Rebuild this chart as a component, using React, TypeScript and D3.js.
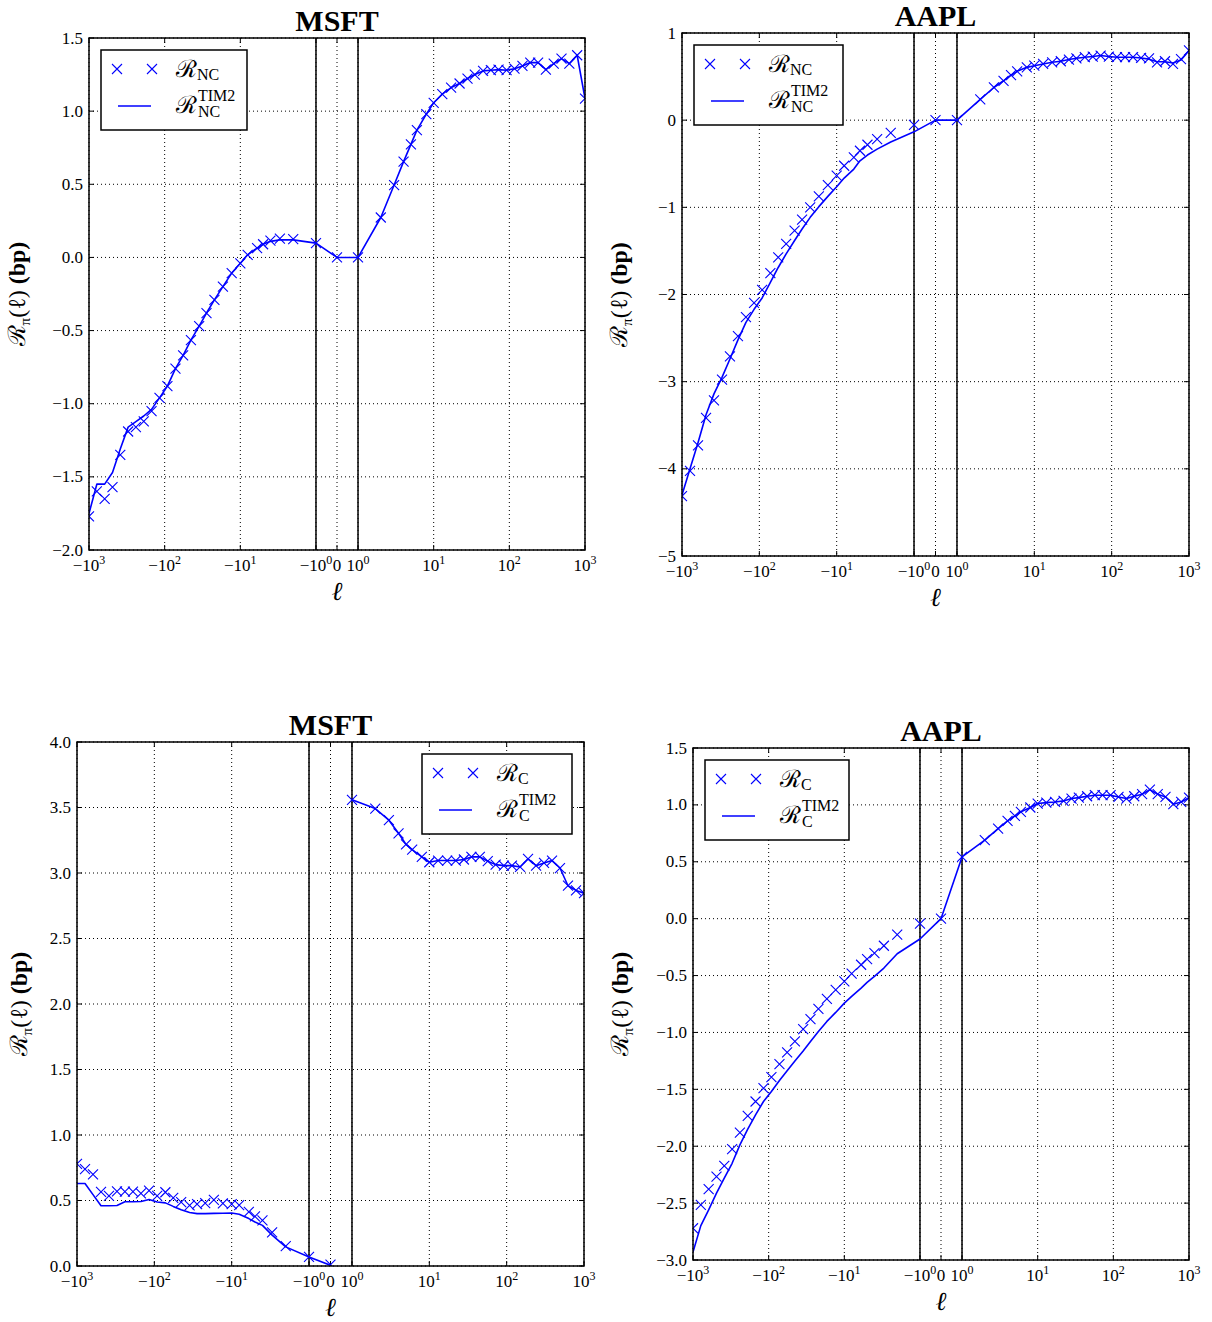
import * as d3 from 'd3';

// lag values (symlog axis), shared by every panel
const ELL = [
  -1000, -788, -621, -489, -386, -304, -240, -189, -149, -117, -92, -72, -57, -45, -35, -28, -22, -17, -13, -10, -8, -6, -5, -4, -3, -2, -1,
  0,
  1, 2, 3, 4, 5, 6, 8, 10, 13, 17, 22, 28, 35, 45, 57, 72, 92, 117, 149, 189, 240, 304, 386, 489, 621, 788, 1000,
];

const MSFT_NC_MARKS = [
  -1.77, -1.6, -1.65, -1.57, -1.35, -1.19, -1.16, -1.12, -1.05, -0.96, -0.88, -0.76, -0.67, -0.565, -0.47, -0.38, -0.29, -0.2, -0.107, -0.04, 0.018, 0.064, 0.09, 0.115, 0.128, 0.125, 0.098,
  0,
  0, 0.273, 0.495, 0.655, 0.773, 0.87, 0.98, 1.057, 1.116, 1.161, 1.189, 1.223, 1.25, 1.275, 1.28, 1.284, 1.28, 1.29, 1.309, 1.332, 1.332, 1.284, 1.325, 1.359, 1.325, 1.382, 1.086,
];
const MSFT_NC_LINE = [
  -1.75, -1.55, -1.55, -1.47, -1.31, -1.16, -1.123, -1.084, -1.039, -0.96, -0.88, -0.76, -0.67, -0.565, -0.47, -0.38, -0.29, -0.2, -0.107, -0.04, 0.018, 0.064, 0.09, 0.11, 0.12, 0.12, 0.098,
  0,
  0, 0.273, 0.495, 0.655, 0.773, 0.87, 0.98, 1.057, 1.116, 1.161, 1.189, 1.223, 1.25, 1.275, 1.28, 1.284, 1.28, 1.29, 1.309, 1.332, 1.332, 1.284, 1.325, 1.359, 1.325, 1.382, 1.086,
];

const AAPL_NC_MARKS = [
  -4.313, -4.023, -3.73, -3.416, -3.214, -2.977, -2.71, -2.477, -2.26, -2.095, -1.947, -1.756, -1.573, -1.42, -1.267, -1.141, -1.0, -0.874, -0.744, -0.637, -0.523, -0.427, -0.351, -0.282, -0.218, -0.145, -0.053,
  0,
  0, 0.239, 0.375, 0.452, 0.517, 0.56, 0.606, 0.625, 0.645, 0.664, 0.676, 0.695, 0.71, 0.722, 0.73, 0.741, 0.73, 0.722, 0.722, 0.722, 0.714, 0.71, 0.664, 0.676, 0.645, 0.7, 0.8,
];
const AAPL_NC_LINE = [
  -4.3, -4.0, -3.7, -3.38, -3.14, -2.95, -2.74, -2.52, -2.32, -2.17, -2.04, -1.86, -1.69, -1.534, -1.38, -1.248, -1.115, -0.992, -0.874, -0.763, -0.664, -0.561, -0.466, -0.4, -0.332, -0.25, -0.134,
  0,
  0, 0.239, 0.375, 0.452, 0.517, 0.56, 0.606, 0.625, 0.645, 0.664, 0.676, 0.695, 0.71, 0.722, 0.73, 0.741, 0.73, 0.722, 0.722, 0.722, 0.714, 0.7, 0.67, 0.67, 0.655, 0.69, 0.8,
];

const MSFT_C_MARKS = [
  0.78, 0.74, 0.7, 0.565, 0.535, 0.57, 0.568, 0.567, 0.555, 0.575, 0.536, 0.563, 0.52, 0.487, 0.462, 0.473, 0.48, 0.504, 0.478, 0.473, 0.465, 0.414, 0.378, 0.348, 0.257, 0.152, 0.069,
  0.01,
  3.559, 3.492, 3.403, 3.303, 3.218, 3.179, 3.123, 3.082, 3.095, 3.095, 3.095, 3.103, 3.123, 3.123, 3.09, 3.064, 3.056, 3.056, 3.046, 3.108, 3.056, 3.077, 3.095, 3.038, 2.903, 2.867, 2.846,
];
const MSFT_C_LINE = [
  0.63, 0.63, 0.545, 0.46, 0.46, 0.462, 0.49, 0.49, 0.492, 0.508, 0.488, 0.482, 0.455, 0.43, 0.408, 0.4, 0.4, 0.402, 0.403, 0.405, 0.395, 0.362, 0.336, 0.31, 0.236, 0.146, 0.069,
  0.005,
  3.559, 3.492, 3.403, 3.303, 3.218, 3.179, 3.123, 3.082, 3.095, 3.095, 3.095, 3.103, 3.123, 3.123, 3.09, 3.064, 3.056, 3.056, 3.046, 3.108, 3.056, 3.077, 3.095, 3.038, 2.903, 2.867, 2.846,
];

const AAPL_C_MARKS = [
  -2.721, -2.516, -2.378, -2.267, -2.173, -2.026, -1.88, -1.733, -1.607, -1.49, -1.393, -1.279, -1.176, -1.079, -0.971, -0.883, -0.792, -0.704, -0.625, -0.551, -0.484, -0.405, -0.355, -0.302, -0.238, -0.141, -0.044,
  0,
  0.543, 0.69, 0.792, 0.86, 0.904, 0.939, 0.977, 1.012, 1.02, 1.026, 1.035, 1.056, 1.064, 1.076, 1.085, 1.085, 1.085, 1.07, 1.056, 1.076, 1.094, 1.134, 1.094, 1.07, 1.006, 1.026, 1.064,
];
const AAPL_C_LINE = [
  -2.93, -2.698, -2.56, -2.413, -2.28, -2.15, -1.988, -1.85, -1.724, -1.607, -1.519, -1.422, -1.337, -1.252, -1.164, -1.079, -0.991, -0.903, -0.824, -0.742, -0.683, -0.61, -0.56, -0.507, -0.434, -0.308, -0.179,
  0,
  0.543, 0.69, 0.792, 0.86, 0.904, 0.939, 0.977, 1.012, 1.02, 1.026, 1.035, 1.056, 1.064, 1.076, 1.085, 1.085, 1.085, 1.07, 1.056, 1.076, 1.094, 1.134, 1.094, 1.07, 1.006, 1.026, 1.064,
];

const X_TICKS = [-1000, -100, -10, -1, 0, 1, 10, 100, 1000];
const Y_TICKS_MSFT_NC = [-2, -1.5, -1, -0.5, 0, 0.5, 1, 1.5];
const Y_TICKS_AAPL_NC = [-5, -4, -3, -2, -1, 0, 1];
const Y_TICKS_MSFT_C = [0, 0.5, 1, 1.5, 2, 2.5, 3, 3.5, 4];
const Y_TICKS_AAPL_C = [-3, -2.5, -2, -1.5, -1, -0.5, 0, 0.5, 1, 1.5];

const FONT = '"Liberation Serif", "DejaVu Serif", serif';
const BLUE = '#0000ff';

// matplotlib-style symlog: linthresh 1, linscale 0.25
const LIN = 0.25 / 0.9;
const symlog = (v: number) =>
  Math.abs(v) <= 1 ? v * LIN : Math.sign(v) * (LIN + Math.log10(Math.abs(v)));

type Box = { left: number; top: number; right: number; bottom: number };

interface PanelProps {
  id: string;
  title: string;
  box: Box;
  yTicks: number[];
  yFmt: string;
  marks: number[];
  line: number[];
  sub: string;
  legendSide: 'left' | 'right';
  legendW: number;
  ylabelX: number;
  breakAtZero?: boolean;
}

function xTickLabel(v: number) {
  if (v === 0) return '0';
  const exp = Math.round(Math.log10(Math.abs(v)));
  return (
    <>
      {v < 0 ? '\u2212' : ''}10
      <tspan dy={-7} fontSize={12}>{exp}</tspan>
    </>
  );
}

function Panel({ id, title, box, yTicks, yFmt, marks, line, sub, legendSide, legendW, ylabelX, breakAtZero }: PanelProps) {
  const x = d3.scaleLinear().domain([symlog(-1000), symlog(1000)]).range([box.left, box.right]);
  const y = d3.scaleLinear().domain([yTicks[0], yTicks[yTicks.length - 1]]).range([box.bottom, box.top]);
  const X = (v: number) => x(symlog(v));
  const fmt = d3.format(yFmt);

  const pts = ELL.map((l, i) => ({ l, m: marks[i], v: line[i] }));
  const lineGen = d3.line<{ l: number; v: number }>().x(d => X(d.l)).y(d => y(d.v));
  // the C series for MSFT is not joined across the jump between 0 and 1
  const segs = breakAtZero ? [pts.filter(p => p.l <= 0), pts.filter(p => p.l >= 1)] : [pts];

  const cx = (box.left + box.right) / 2;
  const cy = (box.top + box.bottom) / 2;
  const lh = 80;
  const lx = legendSide === 'left' ? box.left + 12 : box.right - 12 - legendW;
  const ly = box.top + 12;
  const ms = 5;

  const cross = (px: number, py: number, key: string | number) => (
    <path key={key} d={`M${px - ms},${py - ms}L${px + ms},${py + ms}M${px - ms},${py + ms}L${px + ms},${py - ms}`}
      stroke={BLUE} strokeWidth={1.1} fill="none" />
  );

  return (
    <g>
      <defs>
        <clipPath id={`clip-${id}`}>
          <rect x={box.left} y={box.top} width={box.right - box.left} height={box.bottom - box.top} />
        </clipPath>
      </defs>

      <g stroke="#000" strokeWidth={1} strokeDasharray="1,3">
        {X_TICKS.map(t => (
          <line key={`gx${t}`} x1={X(t)} x2={X(t)} y1={box.top} y2={box.bottom} />
        ))}
        {yTicks.map(t => (
          <line key={`gy${t}`} x1={box.left} x2={box.right} y1={y(t)} y2={y(t)} />
        ))}
      </g>

      <g stroke="#000" strokeWidth={1}>
        {X_TICKS.map(t => (
          <g key={`tx${t}`}>
            <line x1={X(t)} x2={X(t)} y1={box.bottom} y2={box.bottom - 5} />
            <line x1={X(t)} x2={X(t)} y1={box.top} y2={box.top + 5} />
          </g>
        ))}
        {yTicks.map(t => (
          <g key={`ty${t}`}>
            <line x1={box.left} x2={box.left + 5} y1={y(t)} y2={y(t)} />
            <line x1={box.right} x2={box.right - 5} y1={y(t)} y2={y(t)} />
          </g>
        ))}
      </g>

      {[-1, 1].map(t => (
        <line key={`v${t}`} x1={X(t)} x2={X(t)} y1={box.top} y2={box.bottom} stroke="#000" strokeWidth={1.5} />
      ))}

      <g clipPath={`url(#clip-${id})`}>
        {segs.map((s, i) => (
          <path key={i} d={lineGen(s) ?? ''} fill="none" stroke={BLUE} strokeWidth={1.6} strokeLinejoin="round" />
        ))}
        {pts.map((p, i) => cross(X(p.l), y(p.m), i))}
      </g>

      <rect x={box.left} y={box.top} width={box.right - box.left} height={box.bottom - box.top}
        fill="none" stroke="#000" strokeWidth={1.5} />

      <g fontFamily={FONT} fontSize={17} fill="#000">
        {X_TICKS.map(t => (
          <text key={`lx${t}`} x={X(t)} y={box.bottom + 21} textAnchor="middle">{xTickLabel(t)}</text>
        ))}
        {yTicks.map(t => (
          <text key={`ly${t}`} x={box.left - 6} y={y(t)} textAnchor="end" dominantBaseline="central">{fmt(t)}</text>
        ))}
      </g>

      <text x={cx} y={box.top - 7} textAnchor="middle" fontFamily={FONT} fontSize={30} fontWeight="bold">{title}</text>
      <text x={cx} y={box.bottom + 50} textAnchor="middle" fontFamily={FONT} fontSize={26} fontStyle="italic">ℓ</text>
      <text transform={`translate(${ylabelX},${cy}) rotate(-90)`} textAnchor="middle" fontFamily={FONT} fontSize={24}>
        ℛ<tspan fontSize={15} dy={5}>π</tspan>
        <tspan dy={-5}>(ℓ) </tspan>
        <tspan fontWeight="bold">(bp)</tspan>
      </text>

      <g>
        <rect x={lx} y={ly} width={legendW} height={lh} fill="#fff" stroke="#000" strokeWidth={1.5} />
        {cross(lx + 16, ly + 19, 'la')}
        {cross(lx + 51, ly + 19, 'lb')}
        <line x1={lx + 17} x2={lx + 50} y1={ly + 56} y2={ly + 56} stroke={BLUE} strokeWidth={1.6} />
        <g fontFamily={FONT} fill="#000">
          <text x={lx + 75} y={ly + 27} fontSize={24}>ℛ<tspan fontSize={16} dy={3}>{sub}</tspan></text>
          <text x={lx + 75} y={ly + 63} fontSize={24}>ℛ</text>
          <text x={lx + 97} y={ly + 51} fontSize={16}>TIM2</text>
          <text x={lx + 97} y={ly + 67} fontSize={16}>{sub}</text>
        </g>
      </g>
    </g>
  );
}

export default function App() {
  return (
    <svg width={1212} height={1322} style={{ position: 'absolute', left: 0, top: 0, background: '#fff' }}>
      <Panel id="tl" title="MSFT" box={{ left: 89, top: 38, right: 585, bottom: 550 }}
        yTicks={Y_TICKS_MSFT_NC} yFmt=".1f" marks={MSFT_NC_MARKS} line={MSFT_NC_LINE}
        sub="NC" legendSide="left" legendW={146} ylabelX={25} />
      <Panel id="tr" title="AAPL" box={{ left: 682, top: 33, right: 1189, bottom: 556 }}
        yTicks={Y_TICKS_AAPL_NC} yFmt="d" marks={AAPL_NC_MARKS} line={AAPL_NC_LINE}
        sub="NC" legendSide="left" legendW={149} ylabelX={627} />
      <Panel id="bl" title="MSFT" box={{ left: 77, top: 742, right: 584, bottom: 1266 }}
        yTicks={Y_TICKS_MSFT_C} yFmt=".1f" marks={MSFT_C_MARKS} line={MSFT_C_LINE}
        sub="C" legendSide="right" legendW={150} ylabelX={27} breakAtZero />
      <Panel id="br" title="AAPL" box={{ left: 693, top: 748, right: 1189, bottom: 1260 }}
        yTicks={Y_TICKS_AAPL_C} yFmt=".1f" marks={AAPL_C_MARKS} line={AAPL_C_LINE}
        sub="C" legendSide="left" legendW={144} ylabelX={628} />
    </svg>
  );
}
